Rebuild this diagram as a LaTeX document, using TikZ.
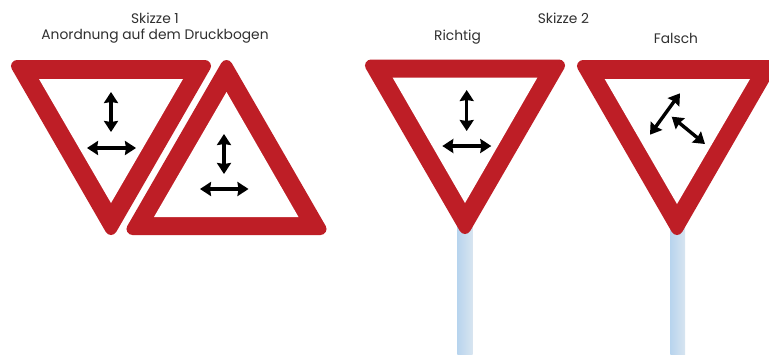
\documentclass[tikz,border=0pt]{standalone}
\usepackage{fontspec}
\setmainfont{Poppins}
\usetikzlibrary{arrows.meta}
\definecolor{signred}{RGB}{190,30,38}
\definecolor{postL}{RGB}{184,212,238}
\definecolor{postR}{RGB}{216,229,240}
\definecolor{txt}{RGB}{48,48,48}
\tikzset{
  x=1pt,y=-1pt,
  label/.style={font=\fontsize{13.8}{16}\selectfont,text=txt,inner sep=0pt,anchor=center},
  ring/.style={fill=signred,draw=signred,line width=12pt,line join=round},
  hole/.style={fill=white},
  dbl/.style={draw=black,line width=3.4pt,{Stealth[length=11pt,width=14pt,inset=1pt]}-{Stealth[length=11pt,width=14pt,inset=1pt]}},
  post/.style={left color=postL,right color=postR,draw=none}
}
\begin{document}
\begin{tikzpicture}
\useasboundingbox (0,0) rectangle (769,354);
\clip (0,0) rectangle (769,354);
\fill[white] (0,0) rectangle (769,354);
% texts
\node[label] (s1) at (155,18) {Skizze 1};
\node[label] (s1b) at (155,36.5) {Anordnung auf dem Druckbogen};
\node[label] (s2) at (563.5,18) {Skizze 2};
\node[label] (ri) at (457.5,37) {Richtig};
\node[label] (fa) at (676,38) {Falsch};
% posts
\fill[post] (457.3,225) rectangle (472.7,354);
\fill[post] (670.3,225) rectangle (685.2,354);
% sketch 1
\draw[ring] (17,66) -- (205,66) -- (111,229) -- cycle;
\fill[hole] (39,79) -- (183,79) -- (111,203) -- cycle;
\draw[dbl] (111,92) -- (111,132);
\draw[dbl] (87,148) -- (136,148);
\draw[ring] (226.5,66) -- (320.5,229) -- (132.5,229) -- cycle;
\fill[hole] (226.5,92) -- (298.5,217) -- (154,217) -- cycle;
\draw[dbl] (224,134) -- (224,174);
\draw[dbl] (200,189) -- (248.5,189);
% sketch 2
\draw[ring] (371,65.5) -- (559,65.5) -- (465,228) -- cycle;
\fill[hole] (392.7,77.7) -- (537.3,77.7) -- (465,203) -- cycle;
\draw[dbl] (466.7,90) -- (466.7,131);
\draw[dbl] (442.3,146) -- (491.3,146);
\draw[ring] (583,66) -- (771,66) -- (677,229) -- cycle;
\fill[hole] (604.7,79) -- (750,79) -- (677,204) -- cycle;
\draw[dbl] (650,134.7) -- (680,93.3);
\draw[dbl] (671.7,116.7) -- (705,144);
\end{tikzpicture}
\end{document}
